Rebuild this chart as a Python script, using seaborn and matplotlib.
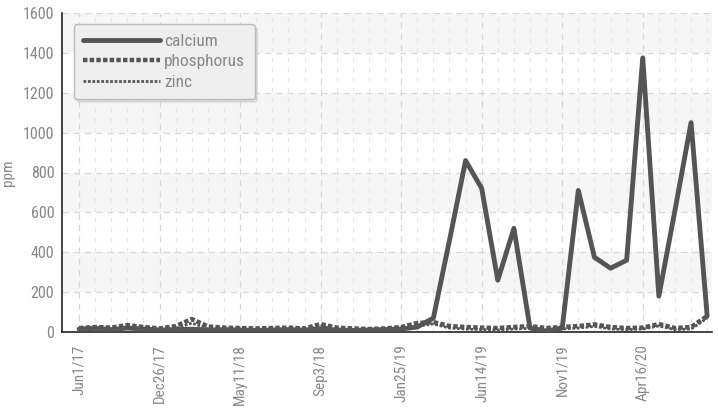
import numpy as np
import pandas as pd
import matplotlib
matplotlib.use("Agg")
import matplotlib.pyplot as plt
import seaborn as sns
from matplotlib import font_manager

tick_labels = ["Jun1/17", "Dec26/17", "May11/18", "Sep3/18", "Jan25/19",
               "Jun14/19", "Nov1/19", "Apr16/20"]

calcium = [15, 18, 12, 20, 15, 10, 12, 14, 10, 12,
           10, 8, 10, 12, 10, 15, 10, 8, 10, 12,
           15, 25, 70, 460, 860, 720, 260, 520, 20, 5,
           20, 710, 375, 320, 360, 1375, 180, 610, 1050, 80]
phosphorus = [20, 25, 22, 35, 25, 18, 30, 65, 28, 22,
              20, 18, 20, 22, 18, 40, 22, 18, 15, 18,
              25, 45, 50, 30, 25, 22, 20, 25, 30, 20,
              25, 30, 38, 25, 20, 22, 40, 20, 25, 80]
zinc = [10, 15, 12, 25, 15, 10, 18, 45, 15, 12,
        10, 10, 12, 12, 10, 30, 12, 10, 8, 10,
        15, 30, 40, 20, 15, 12, 10, 15, 18, 10,
        15, 20, 28, 15, 12, 15, 30, 12, 15, 70]

n = len(calcium)
df = pd.DataFrame({"idx": np.arange(n), "calcium": calcium,
                   "phosphorus": phosphorus, "zinc": zinc})

sns.set_style("white")
names = set(f.name for f in font_manager.fontManager.ttflist)
if "Liberation Sans Narrow" in names:
    plt.rcParams["font.family"] = ["Liberation Sans Narrow", "DejaVu Sans"]
elif "Roboto Condensed" in names:
    plt.rcParams["font.family"] = ["Roboto Condensed", "DejaVu Sans"]
else:
    plt.rcParams["font.family"] = ["DejaVu Sans"]
    plt.rcParams["font.stretch"] = "condensed"

fig = plt.figure(figsize=(7.18, 4.13), dpi=100)
ax = fig.add_axes([62/718, 1-332/413, (712-62)/718, (332-13)/413])

# alternating background bands
for k in range(8):
    if k % 2 == 1:
        ax.axhspan(k*200, (k+1)*200, color="#f6f6f6", zorder=0, lw=0)

ax.set_xlim(-1.06, 39.3)
ax.set_ylim(0, 1600)

ax.set_xticks(np.arange(0, n, 5))
ax.set_xticks(np.arange(n), minor=True)
ax.set_xticklabels(tick_labels, rotation=90)
ax.set_yticks(np.arange(0, 1601, 200))
ax.grid(True, which="major", axis="both", color="#d8d8d8", linestyle=(0, (5, 4)), lw=0.9, zorder=1)
ax.grid(True, which="minor", axis="x", color="#e6e6e6", linestyle=(0, (4, 5)), lw=0.8, zorder=1)
ax.set_axisbelow(True)

col = "#555555"
sns.lineplot(data=df, x="idx", y="zinc", ax=ax, color=col, lw=2.0,
             linestyle=(0, (1, 0.6)), label="zinc", zorder=3)
sns.lineplot(data=df, x="idx", y="phosphorus", ax=ax, color=col, lw=3.2,
             linestyle=(0, (1, 0.5)), label="phosphorus", zorder=4)
sns.lineplot(data=df, x="idx", y="calcium", ax=ax, color=col, lw=3.5,
             label="calcium", zorder=5)

ax.set_xlabel("")
ax.set_ylabel("ppm", color="#888888", fontsize=11)
ax.yaxis.set_label_coords(-0.072, 0.5)

for s in ["top", "right"]:
    ax.spines[s].set_visible(False)
for s in ["left", "bottom"]:
    ax.spines[s].set_color("#222222")
    ax.spines[s].set_linewidth(1.2)

ax.tick_params(axis="y", direction="inout", length=7, width=1.2, color="#222222",
               labelcolor="#888888", labelsize=11.5, pad=2)
ax.tick_params(axis="x", which="major", direction="inout", length=6, width=1.2,
               color="#222222", labelcolor="#888888", labelsize=11, pad=6)
ax.tick_params(axis="x", which="minor", direction="out", length=2, width=0.8,
               color="#bbbbbb")

handles, labels = ax.get_legend_handles_labels()
order = [labels.index(l) for l in ["calcium", "phosphorus", "zinc"]]
leg = ax.legend([handles[i] for i in order], [labels[i] for i in order],
                loc="upper left", bbox_to_anchor=(0.018, 0.965), borderaxespad=0,
                frameon=True, fancybox=True, shadow={"color": "#cccccc", "alpha": 0.6},
                handlelength=4.4, handletextpad=0.25, labelspacing=0.3, fontsize=12.5,
                facecolor="#efefef", edgecolor="#bbbbbb", framealpha=1,
                borderpad=0.55)
for t in leg.get_texts():
    t.set_color("#888888")

fig.savefig("out.png", dpi=100)
